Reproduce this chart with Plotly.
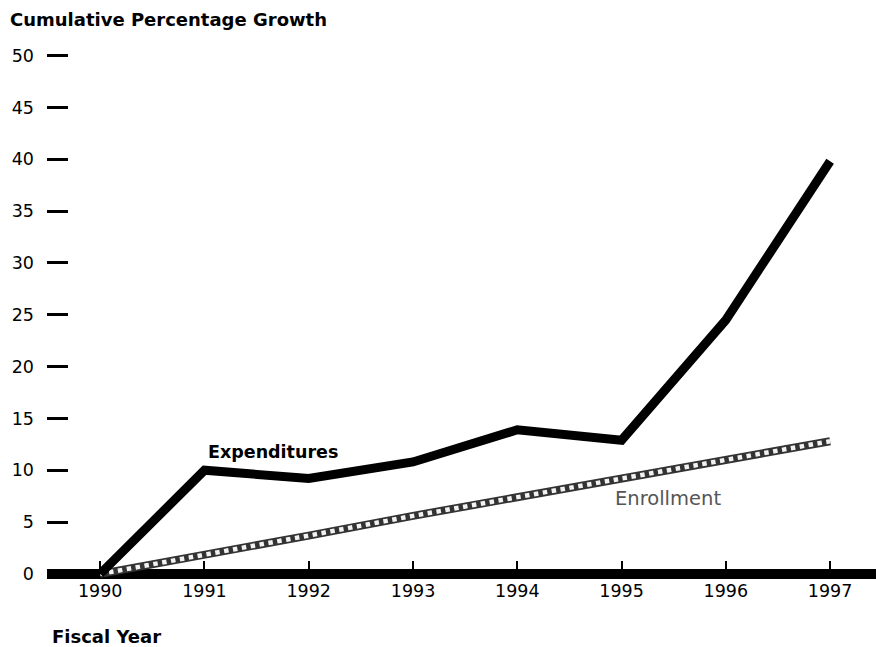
import plotly.graph_objects as go

years = [1990, 1991, 1992, 1993, 1994, 1995, 1996, 1997]
expenditures = [0, 10.0, 9.2, 10.8, 13.9, 12.9, 24.5, 39.8]
enrollment = [0, 1.8, 3.7, 5.6, 7.4, 9.1, 10.9, 12.8]
y_ticks = [0, 5, 10, 15, 20, 25, 30, 35, 40, 45, 50]

FONT = "DejaVu Sans, Liberation Sans, Arial, sans-serif"
W, H = 876, 647
ML, MR, MT, MB = 47, 0, 40, 57
PW, PH = W - ML - MR, H - MT - MB
x_range = [1989.49, 1997.44]
y_range = [-1.55, 51.5]

fig = go.Figure()

fig.add_trace(go.Scatter(
    x=years, y=enrollment, mode="lines",
    line=dict(color="#333333", width=8),
    hoverinfo="skip", showlegend=False))
fig.add_trace(go.Scatter(
    x=years, y=enrollment, mode="lines",
    line=dict(color="#f2f2f2", width=4.5, dash="dot"),
    hoverinfo="skip", showlegend=False))
fig.add_trace(go.Scatter(
    x=years, y=expenditures, mode="lines",
    line=dict(color="black", width=9),
    hoverinfo="skip", showlegend=False))

# thick baseline at zero
fig.add_shape(type="line", xref="paper", yref="y", x0=0, x1=1, y0=0, y1=0,
              line=dict(color="black", width=10), layer="below")

pos0 = (0 - y_range[0]) / (y_range[1] - y_range[0])

fig.update_layout(
    width=W, height=H,
    margin=dict(l=ML, r=MR, t=MT, b=MB),
    paper_bgcolor="white", plot_bgcolor="white",
    font=dict(family=FONT, color="black", size=17),
    xaxis=dict(range=x_range, tickmode="array", tickvals=years,
               ticktext=[str(y) for y in years],
               showgrid=False, zeroline=False, showline=False,
               ticks="inside", ticklen=13, tickwidth=2, tickcolor="black",
               anchor="free", position=pos0, ticklabelstandoff=5,
               tickfont=dict(size=17.5)),
    yaxis=dict(range=y_range, tickmode="array", tickvals=y_ticks,
               showgrid=False, zeroline=False, showline=False,
               ticks="inside", ticklen=21, tickwidth=3, tickcolor="black",
               ticklabelstandoff=12, tickfont=dict(size=17.5)),
    annotations=[
        dict(text="<b>Cumulative Percentage Growth</b>", xref="paper", yref="paper",
             x=(8 - ML) / PW, y=1 + (MT - 20) / PH,
             xanchor="left", yanchor="middle", showarrow=False,
             font=dict(size=18, family=FONT)),
        dict(text="<b>Fiscal Year</b>", xref="paper", yref="paper",
             x=(50 - ML) / PW, y=-(636 - (H - MB)) / PH,
             xanchor="left", yanchor="middle", showarrow=False,
             font=dict(size=18, family=FONT)),
        dict(text="<b>Expenditures</b>", x=1991.66, y=11.8, xref="x", yref="y",
             showarrow=False, font=dict(size=17.5, family=FONT)),
        dict(text="Enrollment", x=1995.45, y=7.3, xref="x", yref="y",
             showarrow=False, font=dict(size=19.5, family=FONT, color="#555")),
    ],
)

fig.write_html("out.html",
               config={"displayModeBar": False},
               post_script="document.body.style.margin='0';document.body.style.padding='0';")
